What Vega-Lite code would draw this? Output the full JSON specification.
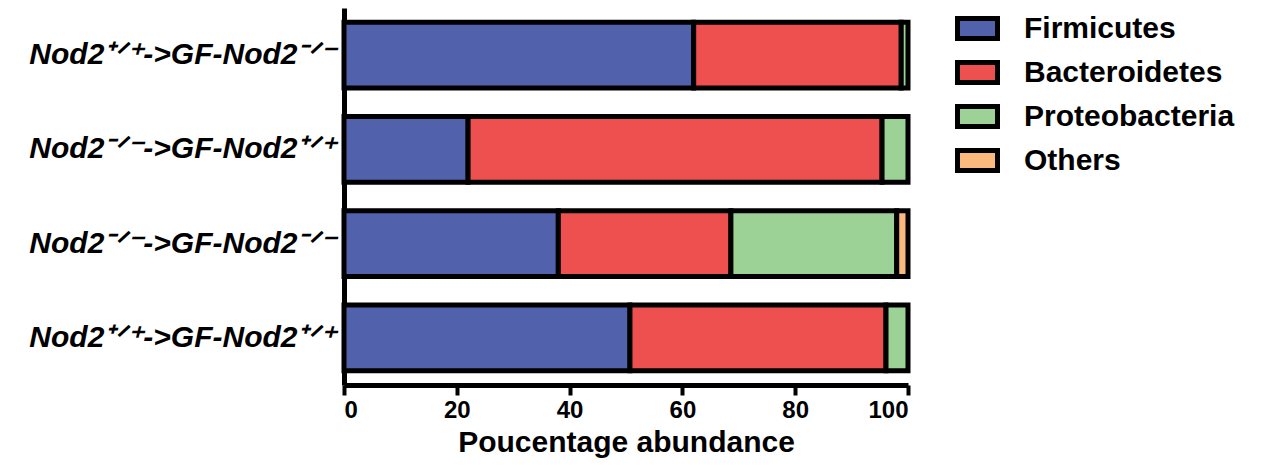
{
  "$schema": "https://vega.github.io/schema/vega-lite/v6.json",
  "width": 564,
  "height": 377,
  "autosize": "none",
  "padding": {"left": 344, "top": 8, "right": 364, "bottom": 80},
  "background": "white",
  "config": {"view": {"stroke": null}, "font": "Liberation Sans"},
  "data": {"values": [
    {"group": "Nod2⁺ᐟ⁺->GF-Nod2⁻ᐟ⁻", "phylum": "Firmicutes", "pct": 62},
    {"group": "Nod2⁺ᐟ⁺->GF-Nod2⁻ᐟ⁻", "phylum": "Bacteroidetes", "pct": 36.8},
    {"group": "Nod2⁺ᐟ⁺->GF-Nod2⁻ᐟ⁻", "phylum": "Proteobacteria", "pct": 1.2},
    {"group": "Nod2⁻ᐟ⁻->GF-Nod2⁺ᐟ⁺", "phylum": "Firmicutes", "pct": 22},
    {"group": "Nod2⁻ᐟ⁻->GF-Nod2⁺ᐟ⁺", "phylum": "Bacteroidetes", "pct": 73.4},
    {"group": "Nod2⁻ᐟ⁻->GF-Nod2⁺ᐟ⁺", "phylum": "Proteobacteria", "pct": 4.6},
    {"group": "Nod2⁻ᐟ⁻->GF-Nod2⁻ᐟ⁻", "phylum": "Firmicutes", "pct": 38},
    {"group": "Nod2⁻ᐟ⁻->GF-Nod2⁻ᐟ⁻", "phylum": "Bacteroidetes", "pct": 30.6},
    {"group": "Nod2⁻ᐟ⁻->GF-Nod2⁻ᐟ⁻", "phylum": "Proteobacteria", "pct": 29.4},
    {"group": "Nod2⁻ᐟ⁻->GF-Nod2⁻ᐟ⁻", "phylum": "Others", "pct": 2},
    {"group": "Nod2⁺ᐟ⁺->GF-Nod2⁺ᐟ⁺", "phylum": "Firmicutes", "pct": 50.7},
    {"group": "Nod2⁺ᐟ⁺->GF-Nod2⁺ᐟ⁺", "phylum": "Bacteroidetes", "pct": 45.4},
    {"group": "Nod2⁺ᐟ⁺->GF-Nod2⁺ᐟ⁺", "phylum": "Proteobacteria", "pct": 3.9}
  ]},
  "transform": [
    {"calculate": "indexof(['Firmicutes','Bacteroidetes','Proteobacteria','Others'], datum.phylum)", "as": "ord"}
  ],
  "mark": {"type": "bar", "stroke": "black", "strokeWidth": 5},
  "encoding": {
    "y": {
      "field": "group", "type": "nominal",
      "sort": ["Nod2⁺ᐟ⁺->GF-Nod2⁻ᐟ⁻", "Nod2⁻ᐟ⁻->GF-Nod2⁺ᐟ⁺", "Nod2⁻ᐟ⁻->GF-Nod2⁻ᐟ⁻", "Nod2⁺ᐟ⁺->GF-Nod2⁺ᐟ⁺"],
      "scale": {"paddingInner": 0.3, "paddingOuter": 0.15},
      "axis": {
        "title": null, "ticks": false, "domainColor": "black", "domainWidth": 5,
        "labelFontSize": 30, "labelFontWeight": "bold", "labelFontStyle": "italic",
        "labelColor": "black", "labelPadding": 8, "labelLimit": 400
      }
    },
    "x": {
      "field": "pct", "type": "quantitative", "stack": "zero",
      "scale": {"domain": [0, 100], "nice": false},
      "axis": {
        "title": "Poucentage abundance", "values": [0, 20, 40, 60, 80, 100],
        "grid": false, "domainColor": "black", "domainWidth": 5, "offset": 0,
        "tickColor": "black", "tickWidth": 4, "tickSize": 10,
        "labelFontSize": 24, "labelFontWeight": "bold", "labelColor": "black", "labelPadding": 3,
        "titleFontSize": 30, "titleFontWeight": "bold", "titleColor": "black", "titlePadding": 5
      }
    },
    "color": {
      "field": "phylum", "type": "nominal",
      "scale": {
        "domain": ["Firmicutes", "Bacteroidetes", "Proteobacteria", "Others"],
        "range": ["#5161AB", "#EE4F4F", "#9CD295", "#FCB97D"]
      },
      "legend": {
        "title": null, "orient": "none", "legendX": 611, "legendY": -2,
        "symbolType": "M-1,-0.5H1V0.5H-1Z", "symbolSize": 1600,
        "symbolStrokeColor": "black", "symbolStrokeWidth": 5, "symbolOpacity": 1,
        "labelFontSize": 30, "labelFontWeight": "bold", "labelColor": "black",
        "labelOffset": 24, "rowPadding": 1, "labelLimit": 400
      }
    },
    "order": {"field": "ord", "type": "quantitative"}
  }
}
